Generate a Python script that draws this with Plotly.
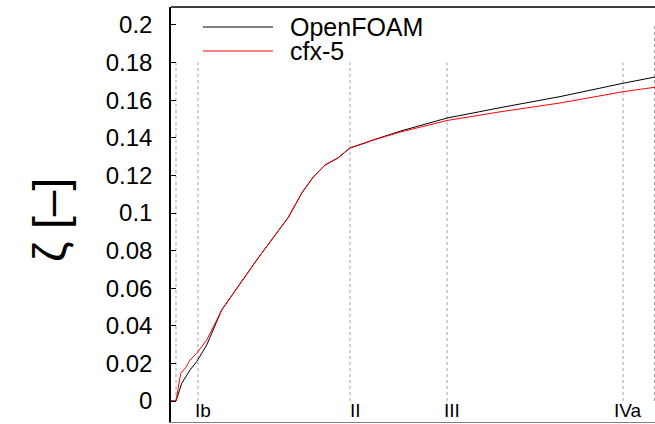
import plotly.graph_objects as go

# positions along the flow path (arbitrary length units)
x_openfoam = [0.0, 0.05, 0.107, 0.14, 0.19, 0.257, 0.357, 0.507, 0.857, 1.173, 1.31, 1.42, 1.54, 1.67, 1.79, 1.94, 2.02, 2.29, 2.76, 3.29, 3.89, 4.52, 4.84]
zeta_openfoam = [0.0, 0.0, 0.0094, 0.0122, 0.0165, 0.0209, 0.0298, 0.0484, 0.075, 0.0977, 0.1108, 0.119, 0.1255, 0.1293, 0.1346, 0.1372, 0.1388, 0.1435, 0.1505, 0.1560, 0.1619, 0.1690, 0.1723]

x_cfx = [0.0, 0.05, 0.097, 0.15, 0.19, 0.257, 0.357, 0.43, 0.507, 0.857, 1.173, 1.31, 1.42, 1.54, 1.67, 1.79, 1.94, 2.02, 2.29, 2.76, 3.29, 3.89, 4.52, 4.84]
zeta_cfx = [0.0, 0.0, 0.0147, 0.018, 0.0218, 0.0254, 0.0324, 0.040, 0.0484, 0.075, 0.0977, 0.1108, 0.119, 0.1255, 0.1293, 0.1346, 0.1372, 0.1388, 0.1430, 0.1492, 0.1538, 0.1585, 0.1645, 0.1669]

# section markers
station_x = [0.05, 0.27, 1.79, 2.76, 4.52, 4.835]
station_top = [0.18, 0.18, 0.18, 0.18, 0.18, 0.2]
station_labels = ["", "Ib", "II", "III", "IVa", ""]

y_ticks = [0, 0.02, 0.04, 0.06, 0.08, 0.1, 0.12, 0.14, 0.16, 0.18, 0.2]
y_ticktext = ["0", "0.02", "0.04", "0.06", "0.08", "0.1", "0.12", "0.14", "0.16", "0.18", "0.2"]

series_names = ["OpenFOAM", "cfx-5"]
series_colors = ["#000000", "#ff0000"]

FONT = "Liberation Sans, Arial, sans-serif"

fig = go.Figure()

shapes = []
for sx, st in zip(station_x, station_top):
    shapes.append(dict(type="line", xref="x", yref="y", x0=sx, x1=sx, y0=0, y1=st,
                       line=dict(color="#a0a0a0", width=1, dash="dot"), layer="below"))

fig.add_trace(go.Scatter(x=x_openfoam, y=zeta_openfoam, mode="lines", name=series_names[0],
                         line=dict(color=series_colors[0], width=1), showlegend=False))
fig.add_trace(go.Scatter(x=x_cfx, y=zeta_cfx, mode="lines", name=series_names[1],
                         line=dict(color=series_colors[1], width=1), showlegend=False))

annotations = []
for sx, lab in zip(station_x, station_labels):
    if lab:
        annotations.append(dict(x=sx, y=-0.0048, xref="x", yref="y", text=lab, showarrow=False,
                                xanchor="center", yanchor="middle", xshift=5,
                                font=dict(family=FONT, size=19, color="#000")))

# manual legend
W, H = 484.0, 415.0
def px(x):
    return (x - 171) / W
def py(y):
    return (422 - y) / H

for i, (nm, col) in enumerate(zip(series_names, series_colors)):
    yy = 27 + 24 * i
    shapes.append(dict(type="line", xref="paper", yref="paper", x0=px(203), x1=px(273),
                       y0=py(yy), y1=py(yy), line=dict(color=col, width=1)))
    annotations.append(dict(x=px(288), y=py(yy), xref="paper", yref="paper", text=nm,
                            showarrow=False, xanchor="left", yanchor="middle",
                            font=dict(family=FONT, size=25, color="#000")))

# top frame line
shapes.append(dict(type="line", xref="paper", yref="paper", x0=0, x1=1, y0=1, y1=1,
                   line=dict(color="#000", width=1.5)))

# y-axis title
annotations.append(dict(x=px(50), y=py(220), xref="paper", yref="paper", text="ζ [–]",
                        showarrow=False, textangle=-90, xanchor="center", yanchor="middle",
                        font=dict(family=FONT, size=46, color="#000")))

fig.update_layout(
    width=655, height=424,
    margin=dict(l=171, r=0, t=7, b=2),
    plot_bgcolor="white", paper_bgcolor="white",
    shapes=shapes, annotations=annotations,
    showlegend=False,
    xaxis=dict(range=[0, 4.84], showgrid=False, zeroline=False, showticklabels=False,
               ticks="", showline=True, linecolor="#808080", linewidth=1),
    yaxis=dict(range=[-0.01117, 0.20957], showgrid=False, zeroline=False,
               tickvals=y_ticks, ticktext=y_ticktext, ticks="inside", ticklen=5,
               tickcolor="#000", showline=True, linecolor="#000", linewidth=1.5,
               tickfont=dict(family=FONT, size=24, color="#000"), ticklabelstandoff=12),
)

fig.write_html("out.html", config={"displayModeBar": False},
               post_script="document.body.style.margin='0';document.body.style.overflow='hidden';")
